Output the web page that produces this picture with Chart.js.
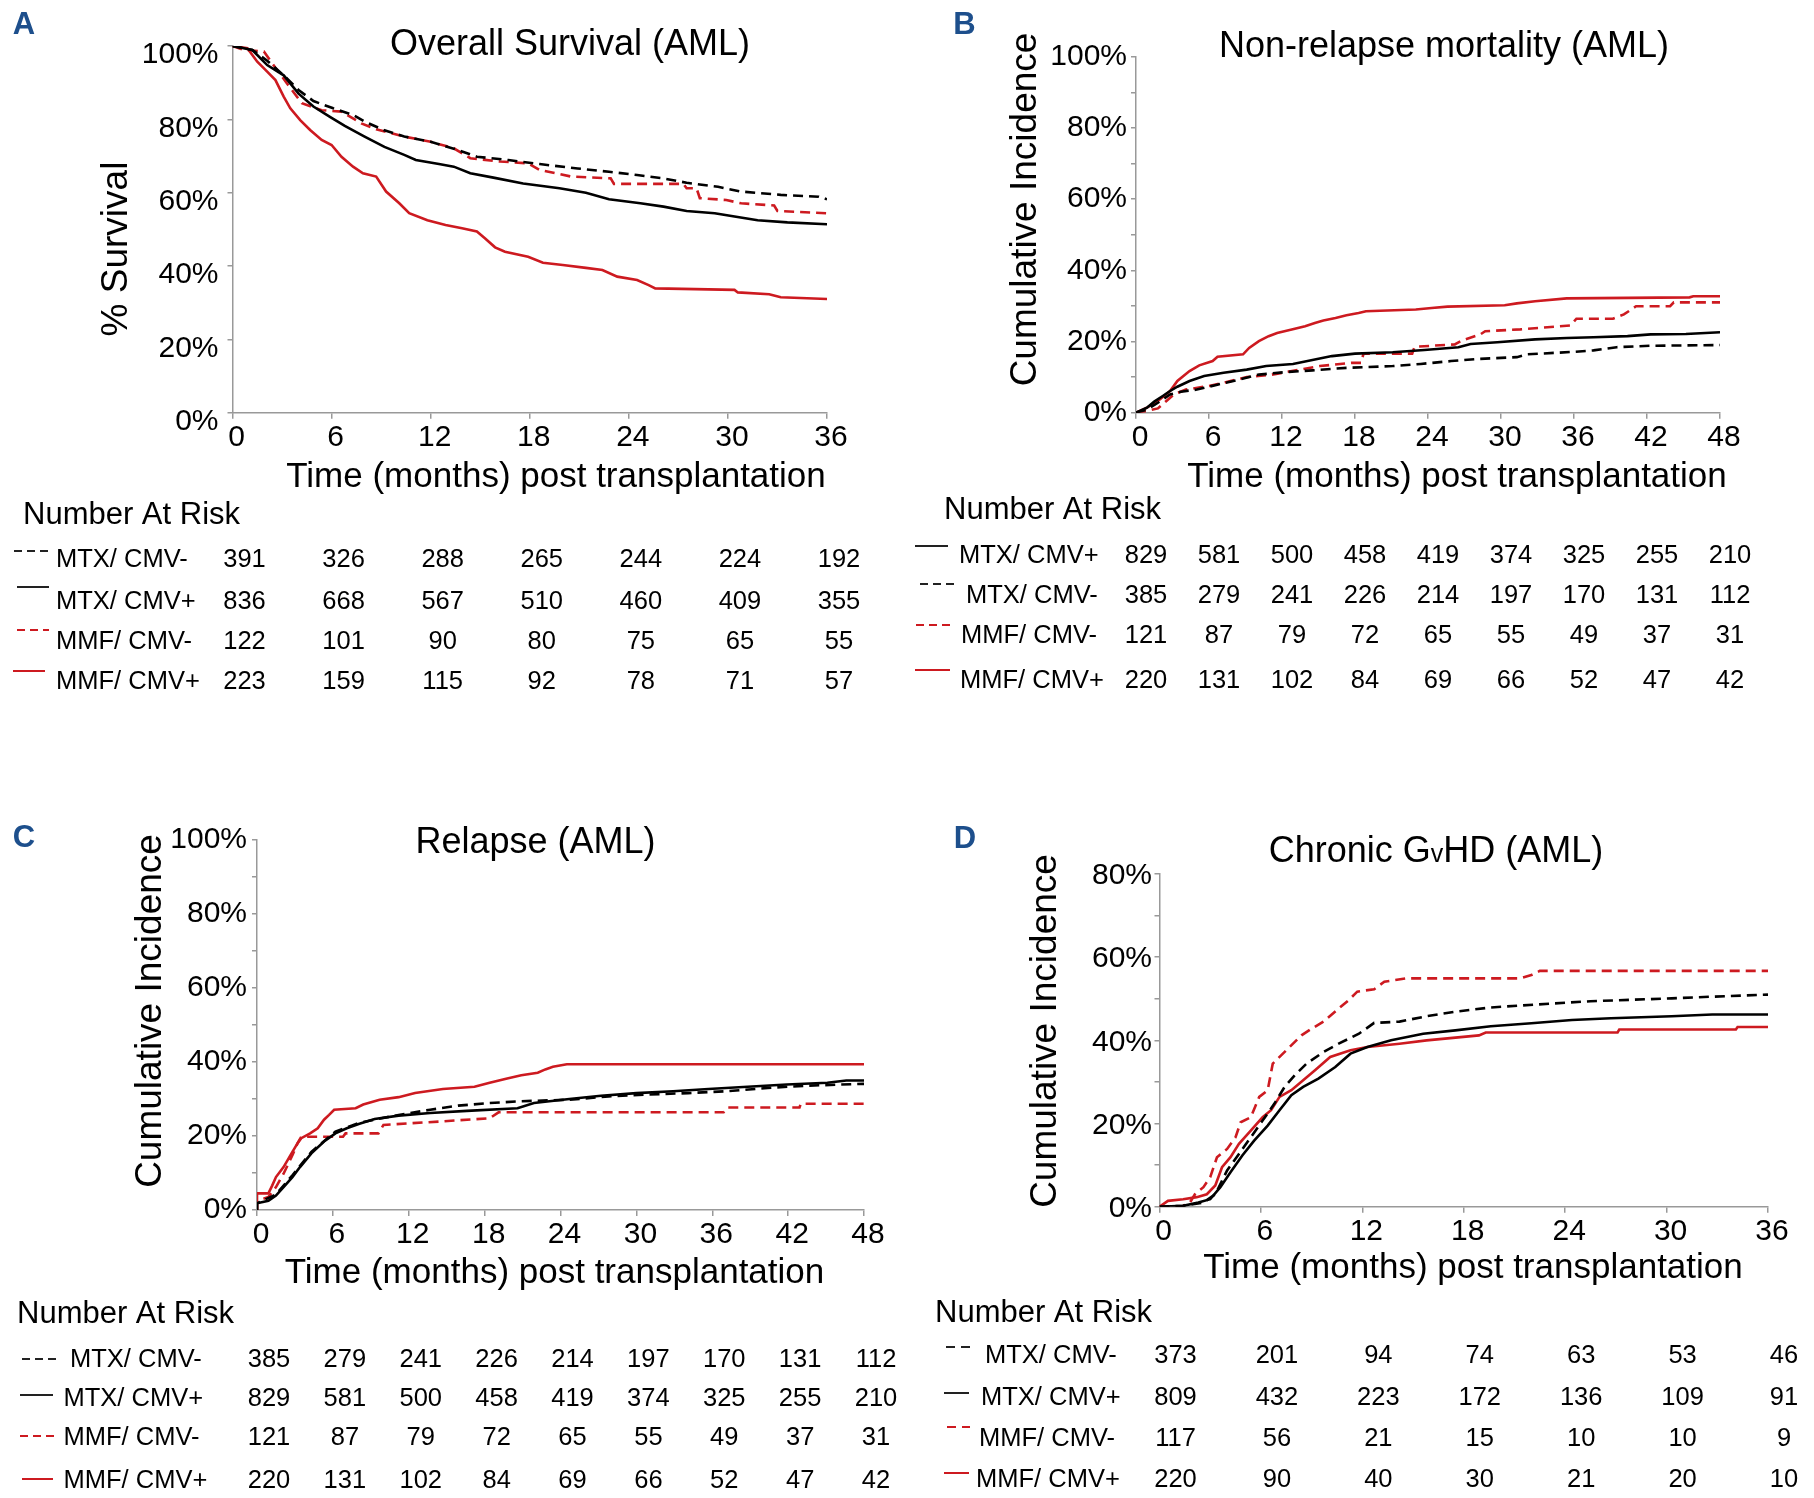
<!DOCTYPE html>
<html>
<head>
<meta charset="utf-8">
<script src="https://cdn.jsdelivr.net/npm/chart.js@4.4.1/dist/chart.umd.min.js"></script>
<style>
  html, body { margin: 0; padding: 0; background: #fff; }
  #fig { position: relative; width: 1814px; height: 1498px; overflow: hidden; }
</style>
</head>
<body>
<div id="fig"></div>
<script>
const FONT = '"Liberation Sans", Arial, sans-serif';
const RED = "#cd1a20";
const BLUE = "#1d4f8c";

// groups: 0 MTX/CMV-, 1 MTX/CMV+, 2 MMF/CMV-, 3 MMF/CMV+
const groupNames = ["MTX/ CMV-", "MTX/ CMV+", "MMF/ CMV-", "MMF/ CMV+"];

// A: overall survival (%), [month, value]
const osMtxNeg = [[0,100],[1.2,98.9],[2.1,96],[3.1,92],[4,88],[4.9,85],[6.1,83],[7.3,81.2],[8,79.4],[9.2,77],[10.4,75.3],[12,73.9],[13.4,72],[14.8,69.8],[16.7,68.9],[18.6,67.8],[20.9,66.6],[22.8,65.7],[24.5,64.8],[26.1,63.9],[27.5,62.7],[29.4,61.6],[30.8,60.3],[33.2,59.4],[35.5,58.9],[36,58.2]];
const osMtxPos = [[0,100],[1.2,98.9],[2.1,94.8],[3.1,92],[4,87],[4.9,83.5],[5.9,80.7],[6.8,78.2],[8,75.3],[9.2,72.5],[10.4,70.3],[11.1,68.9],[12.5,67.8],[13.4,67.1],[14.4,65.3],[15.8,64.1],[17.6,62.5],[19.8,61.2],[21.4,60],[22.8,58.2],[24.7,57.1],[26.1,56.2],[27.5,55],[29.2,54.4],[30.4,53.5],[31.8,52.5],[33.6,51.9],[36,51.4]];
const osMmfNeg = [[0,100],[0.7,98.9],[1.9,98.5],[2.4,95.3],[3.3,89.8],[4.2,84.4],[5.4,82.5],[6.6,82.1],[7.8,78.9],[8.7,77.3],[10.4,75.3],[12,73.9],[13.4,72.1],[14.4,69.4],[16.2,68.5],[17.9,68],[18.6,66.2],[20.5,64.4],[22.9,63.9],[23.1,62.4],[27.3,62.4],[27.5,61.2],[28.1,61.2],[28.3,58.5],[29.9,58],[30.8,57.1],[32.8,56.5],[33,55],[36,54.4]];
const osMmfPos = [[0,100],[0.9,99.4],[1.5,95.7],[2.1,93],[2.6,90.7],[3.1,86.2],[3.5,83],[4.1,79.8],[4.7,77.1],[5.4,74.4],[6,73],[6.6,69.8],[7.3,67.1],[7.9,65.3],[8.7,64.4],[9.3,60.3],[10.1,57.1],[10.7,54.4],[11.8,52.5],[12.9,51.2],[13.9,50.3],[14.8,49.4],[15.3,47.5],[15.9,45.1],[16.5,43.9],[17.9,42.5],[18.8,40.9],[20,40.3],[21.4,39.5],[22.4,38.9],[23.3,37.1],[24.5,36.2],[25.2,34.8],[25.6,33.9],[30.4,33.5],[30.6,32.8],[32.5,32.3],[33.2,31.5],[36,31]];

// B: non-relapse mortality (%)
const nrmMtxNeg = [[0,0],[0.9,0.9],[1.8,2.8],[2.8,5.1],[3.7,5.9],[5,6.5],[6.6,7.8],[8.5,9.3],[10.1,10.7],[12.3,11.4],[14.5,11.9],[17.3,12.6],[21.1,13.1],[23.4,13.7],[25.9,14.5],[28.1,15.1],[31.3,15.6],[32.2,16.4],[36,17.1],[37.6,17.5],[39.5,18.4],[42.3,18.8],[48,19]];
const nrmMtxPos = [[0,0],[0.9,1.4],[1.5,3.1],[2.2,4.7],[2.8,6.1],[3.4,7.3],[4.4,8.9],[5.6,10.3],[7.2,11.2],[9.1,12.1],[10.7,13.1],[12.9,13.7],[14.8,15],[16.1,15.9],[18,16.6],[21.1,17],[23.7,17.6],[26.5,18.4],[27.5,19.3],[29.7,19.8],[32.8,20.6],[35.4,21],[37.6,21.2],[40.4,21.5],[42.3,22],[45.2,22.1],[48,22.6]];
const nrmMmfNeg = [[0,0],[0.9,0.5],[1.8,1.2],[2.5,3.3],[3.1,5.1],[4.1,6.5],[6,7.5],[7.2,8.4],[9.1,10],[11,10.6],[13.5,12.1],[15.1,13.1],[17.7,14],[18.5,14],[18.7,16.6],[22.7,16.6],[22.9,18.5],[26.2,19.2],[26.8,20.3],[28.3,22],[28.7,22.9],[31.6,23.4],[35.7,24.5],[36.2,26.4],[39.2,26.4],[40.1,27.6],[41.1,29.9],[43.9,29.9],[44.2,31],[48,31]];
const nrmMmfPos = [[0,0],[0.9,1.4],[1.8,3.3],[2.8,6.1],[3.4,8.9],[4.4,11.7],[5.2,13.3],[6.3,14.5],[6.7,15.7],[8.8,16.4],[9.3,18.2],[10.1,20.1],[10.9,21.5],[11.6,22.4],[12.8,23.4],[13.9,24.3],[14.7,25.2],[15.4,25.9],[16.4,26.6],[17.3,27.4],[18.3,28],[18.9,28.5],[23,29],[24.3,29.4],[25.6,29.8],[30.3,30.2],[31.3,30.7],[32.8,31.3],[35.4,32.1],[45.5,32.4],[45.8,32.7],[48,32.7]];

// C: relapse (%)
const relMtxNeg = [[0,0],[0,1.8],[1.5,4.2],[2.8,9.4],[4.3,15.7],[6.2,21.2],[8.1,23.6],[11.2,25.7],[13.7,27.1],[15.9,28.2],[18.4,28.9],[20.9,29.4],[24.7,29.8],[27.8,30.7],[31,31.2],[34.1,31.6],[37.2,32.1],[40.4,33],[43.5,33.6],[48,34.1]];
const relMtxPos = [[0,0],[0,1.8],[0.9,2.5],[1.5,3.9],[2.1,6.2],[2.8,8.9],[3.4,11.6],[4.3,15.3],[5.3,18.5],[6.2,20.7],[7.1,22.1],[8.1,23.3],[9.3,24.6],[11.2,25.5],[13.7,26.2],[16.6,26.8],[20.6,27.5],[21.9,28.9],[24.7,30],[27.2,30.9],[30,31.6],[32.9,32.1],[35.7,32.7],[38.8,33.3],[41.9,33.9],[45.1,34.4],[46.6,35],[48,35]];
const relMmfNeg = [[0,0],[0,2.5],[0.9,3.5],[1.5,6.2],[2.1,9.8],[2.8,14.8],[3.2,18],[3.5,19.8],[6.8,19.8],[7,20.7],[9.6,20.7],[10,23],[14.4,23.9],[18.4,24.8],[19.1,26.4],[36.9,26.4],[37.2,27.7],[42.9,27.7],[43,28.7],[48,28.7]];
const relMmfPos = [[0,0],[0,4.5],[0.9,4.5],[1.2,6.6],[1.5,8.9],[2.1,11.6],[2.8,15.7],[3.2,18],[3.5,19.4],[4.2,20.7],[4.8,22.1],[5.3,24.4],[5.7,25.7],[6.1,27.1],[7.8,27.5],[8.4,28.5],[9.7,29.8],[11.2,30.5],[12.5,31.6],[14.7,32.7],[17.2,33.3],[18.4,34.4],[19.7,35.5],[20.9,36.4],[22.2,37.1],[22.8,38],[23.4,38.7],[24.5,39.4],[48,39.4]];

// D: chronic GvHD (%)
const gvhdMtxNeg = [[0,0],[1.4,0.2],[2.6,1],[3.3,3],[4,8.7],[4.7,12.7],[5.4,16.7],[6.1,20.7],[6.8,24.8],[7.4,28.8],[8,31.6],[8.7,34.4],[9.7,37.2],[10.6,39.2],[11.8,41.6],[12.7,44.2],[14.2,44.5],[15.8,45.8],[17.5,46.9],[19.6,47.9],[22.2,48.6],[25.5,49.4],[30.3,50.1],[32.7,50.5],[36,51]];
const gvhdMtxPos = [[0,0],[1.4,0.2],[2.3,1],[3,1.8],[3.6,4.7],[4.2,8.3],[4.9,12.3],[5.6,15.9],[6.4,19.5],[7.1,23.2],[7.8,26.8],[8.5,28.8],[9.4,30.8],[10.4,33.6],[11.3,36.8],[12.3,38.4],[13.7,40],[15.6,41.6],[17.5,42.4],[19.6,43.4],[22,44.1],[24.4,44.9],[26.7,45.3],[30.3,45.8],[32.7,46.2],[36,46.2]];
const gvhdMmfNeg = [[0,0],[1.3,0],[1.8,1],[2.1,3],[2.6,4.7],[3,7.1],[3.4,11.9],[4,13.9],[4.5,16.7],[4.8,20.3],[5.4,21.5],[5.9,26.4],[6.4,28],[6.7,34.4],[7.3,36.8],[7.7,38.4],[8.4,41.2],[9,42.8],[9.7,44.5],[10.5,47.3],[11.2,49.7],[11.7,51.7],[12.7,52.3],[13.3,54.1],[14.6,54.9],[21.3,54.9],[22,55.7],[22.5,56.7],[36,56.7]];
const gvhdMmfPos = [[0,0],[0.5,1.4],[1.4,1.8],[2.2,2.3],[2.8,3],[3.3,5.1],[3.7,9.5],[4.2,11.9],[4.7,15.1],[5.4,18.3],[6.1,21.5],[6.6,23.2],[7.1,26.4],[7.8,28],[8.5,30.4],[9.2,32.8],[10.1,36],[11.3,37.6],[12.3,38.4],[14.2,39.2],[15.8,40],[18.9,41.2],[19.3,41.9],[27.1,41.9],[27.2,42.6],[34.1,42.6],[34.2,43.2],[36,43.2]];

// numbers at risk, rows in group order, columns every 6 months
const riskOS = [[391,326,288,265,244,224,192],[836,668,567,510,460,409,355],[122,101,90,80,75,65,55],[223,159,115,92,78,71,57]];
const riskNRM = [[385,279,241,226,214,197,170,131,112],[829,581,500,458,419,374,325,255,210],[121,87,79,72,65,55,49,37,31],[220,131,102,84,69,66,52,47,42]];
const riskRel = [[385,279,241,226,214,197,170,131,112],[829,581,500,458,419,374,325,255,210],[121,87,79,72,65,55,49,37,31],[220,131,102,84,69,66,52,47,42]];
const riskGvhd = [[373,201,94,74,63,53,46],[809,432,223,172,136,109,91],[117,56,21,15,10,10,9],[220,90,40,30,21,20,10]];

const groupColor = ["#000", "#000", RED, RED];
const groupDash = [true, false, true, false];

const W = 907, H = 749;

// draws text made of pieces with their own font sizes, centred on (cx, cy)
function drawPieces(ctx, pieces, cx, cy) {
  let total = 0;
  const widths = pieces.map(([t, size]) => {
    ctx.font = size + 'px ' + FONT;
    const w = ctx.measureText(t).width;
    total += w;
    return w;
  });
  let x = cx - total / 2;
  ctx.textAlign = 'left';
  ctx.textBaseline = 'alphabetic';
  pieces.forEach(([t, size], i) => {
    ctx.font = size + 'px ' + FONT;
    ctx.fillText(t, x, cy + 13);
    x += widths[i];
  });
}

function textPlugin(p) {
  return {
    id: 'panelText',
    afterDraw(chart) {
      const ctx = chart.ctx;
      const xs = chart.scales.x;
      const ox = p.ox, oy = p.oy;
      ctx.save();
      ctx.textBaseline = 'middle';
      // panel letter
      ctx.fillStyle = BLUE;
      ctx.font = 'bold 31px ' + FONT;
      ctx.textAlign = 'center';
      ctx.fillText(p.letter, p.letterPos[0] - ox, p.letterPos[1] - oy);
      // title
      ctx.fillStyle = '#000';
      drawPieces(ctx, p.title, p.titlePos[0] - ox, p.titlePos[1] - oy);
      ctx.textBaseline = 'middle';
      ctx.textAlign = 'center';
      // x title
      ctx.font = '35px ' + FONT;
      ctx.fillText('Time (months) post transplantation', p.xTitlePos[0] - ox, p.xTitlePos[1] - oy);
      // y title
      ctx.save();
      ctx.translate(p.yTitlePos[0] - ox, p.yTitlePos[1] - oy);
      ctx.rotate(-Math.PI / 2);
      ctx.font = '37px ' + FONT;
      ctx.fillText(p.yTitle, 0, 0);
      ctx.restore();
      // number at risk table
      ctx.textAlign = 'left';
      ctx.font = '31px ' + FONT;
      ctx.fillText('Number At Risk', p.headPos[0] - ox, p.headPos[1] - oy);
      p.rowOrder.forEach((g, i) => {
        const y = p.rowY[i] - oy;
        const s = p.samples[i];
        ctx.beginPath();
        ctx.setLineDash(groupDash[g] ? p.sampleDash : []);
        ctx.strokeStyle = g < 2 ? '#222' : RED;
        ctx.lineWidth = 2;
        ctx.moveTo(s[0] - ox, s[2] - oy);
        ctx.lineTo(s[1] - ox, s[2] - oy);
        ctx.stroke();
        ctx.setLineDash([]);
        ctx.fillStyle = '#000';
        ctx.font = '25.5px ' + FONT;
        ctx.textAlign = 'left';
        ctx.fillText(groupNames[g], p.labelX[i] - ox, y);
        ctx.textAlign = 'center';
        p.risk[g].forEach((n, j) => {
          ctx.fillText(String(n), xs.getPixelForValue(j * 6) + p.colOff, y);
        });
      });
      ctx.restore();
    }
  };
}

function makePanel(p) {
  const canvas = document.createElement('canvas');
  canvas.width = W;
  canvas.height = H;
  canvas.style.cssText = 'position:absolute;left:' + p.ox + 'px;top:' + p.oy + 'px;width:' + W + 'px;height:' + H + 'px;';
  document.getElementById('fig').appendChild(canvas);
  const a = p.area;
  const xAxisH = 60;
  const datasets = p.series.map((pts, g) => ({
    data: pts.map(([x, y]) => ({ x: x, y: y })),
    borderColor: groupColor[g],
    borderDash: groupDash[g] ? [10, 6] : [],
    borderWidth: 2.6,
    pointRadius: 0,
    fill: false,
    tension: 0
  }));
  new Chart(canvas, {
    type: 'line',
    data: { datasets: datasets },
    options: {
      responsive: false,
      animation: false,
      events: [],
      layout: {
        padding: {
          left: 0,
          top: a.top - p.oy,
          right: W - (a.right - p.ox),
          bottom: H - (a.bottom - p.oy) - xAxisH
        }
      },
      plugins: { legend: { display: false }, tooltip: { enabled: false } },
      scales: {
        x: {
          type: 'linear',
          min: 0,
          max: p.xmax,
          afterFit: s => { s.height = xAxisH; },
          ticks: {
            stepSize: 6,
            autoSkip: false,
            maxRotation: 0,
            padding: 1,
            labelOffset: 4,
            color: '#000',
            font: { family: FONT, size: 30 }
          },
          grid: { drawOnChartArea: false, tickLength: 6, color: '#999', lineWidth: 1.5 },
          border: { color: '#999', width: 1.5 }
        },
        y: {
          type: 'linear',
          min: 0,
          max: p.ymax,
          afterFit: s => { s.width = a.left - p.ox; },
          ticks: {
            stepSize: p.yStep,
            autoSkip: false,
            padding: p.yPad,
            labelOffset: p.yLabelOff,
            color: '#000',
            font: { family: FONT, size: 30 },
            callback: v => (v % 20 === 0 ? v + '%' : '')
          },
          grid: { drawOnChartArea: false, tickLength: 5, color: '#999', lineWidth: 1.5 },
          border: { color: '#999', width: 1.5 }
        }
      }
    },
    plugins: [textPlugin(p)]
  });
}

makePanel({
  ox: 0, oy: 0,
  area: { left: 232.5, right: 827, top: 46, bottom: 412.7 },
  xmax: 36, ymax: 100, yStep: 20, yPad: 9, yLabelOff: 9,
  series: [osMtxNeg, osMtxPos, osMmfNeg, osMmfPos],
  letter: 'A', letterPos: [24, 25.5],
  title: [['Overall Survival (AML)', 36]], titlePos: [570, 42],
  yTitle: '% Survival', yTitlePos: [117, 249],
  xTitlePos: [556, 477],
  headPos: [23, 515],
  risk: riskOS, rowOrder: [0, 1, 2, 3],
  rowY: [560, 602, 642, 682],
  labelX: [56, 56, 56, 56],
  samples: [[14, 49, 551], [17, 49, 587], [17, 49, 630], [13, 45, 671]],
  sampleDash: [8, 5], colOff: 12
});

makePanel({
  ox: 907, oy: 0,
  area: { left: 1136, right: 1720, top: 56.7, bottom: 412.7 },
  xmax: 48, ymax: 100, yStep: 10, yPad: 4, yLabelOff: 0,
  series: [nrmMtxNeg, nrmMtxPos, nrmMmfNeg, nrmMmfPos],
  letter: 'B', letterPos: [964.5, 25],
  title: [['Non-relapse mortality (AML)', 36]], titlePos: [1444, 44],
  yTitle: 'Cumulative Incidence', yTitlePos: [1026, 209.5],
  xTitlePos: [1457, 477],
  headPos: [944, 510],
  risk: riskNRM, rowOrder: [1, 0, 2, 3],
  rowY: [556, 596, 636, 681],
  labelX: [959, 966, 961, 960],
  samples: [[915, 948, 546], [920, 954, 584], [916, 952, 625], [915, 950, 670]],
  sampleDash: [8, 5], colOff: 10
});

makePanel({
  ox: 0, oy: 749,
  area: { left: 257, right: 864, top: 840, bottom: 1210 },
  xmax: 48, ymax: 100, yStep: 10, yPad: 5, yLabelOff: 0,
  series: [relMtxNeg, relMtxPos, relMmfNeg, relMmfPos],
  letter: 'C', letterPos: [24, 838],
  title: [['Relapse (AML)', 36]], titlePos: [535.5, 840],
  yTitle: 'Cumulative Incidence', yTitlePos: [151, 1011],
  xTitlePos: [554.5, 1273],
  headPos: [17, 1314],
  risk: riskRel, rowOrder: [0, 1, 2, 3],
  rowY: [1360, 1399, 1438, 1481],
  labelX: [70, 63.5, 63.5, 63.5],
  samples: [[22, 58, 1359], [20, 53, 1395], [20, 58, 1436], [22, 53, 1479]],
  sampleDash: [8, 5], colOff: 12
});

makePanel({
  ox: 907, oy: 749,
  area: { left: 1159.5, right: 1768, top: 874, bottom: 1206.7 },
  xmax: 36, ymax: 80, yStep: 10, yPad: 2.5, yLabelOff: 2,
  series: [gvhdMtxNeg, gvhdMtxPos, gvhdMmfNeg, gvhdMmfPos],
  letter: 'D', letterPos: [965, 839],
  title: [['Chronic G', 36], ['v', 25], ['HD (AML)', 36]], titlePos: [1436, 849],
  yTitle: 'Cumulative Incidence', yTitlePos: [1046, 1031],
  xTitlePos: [1473, 1268],
  headPos: [935, 1313],
  risk: riskGvhd, rowOrder: [0, 1, 2, 3],
  rowY: [1356, 1398, 1439, 1480],
  labelX: [985, 981, 979, 976],
  samples: [[946, 970, 1347], [944, 969, 1393], [947, 970, 1427], [944, 969, 1473]],
  sampleDash: [9, 6], colOff: 16
});
</script>
</body>
</html>
